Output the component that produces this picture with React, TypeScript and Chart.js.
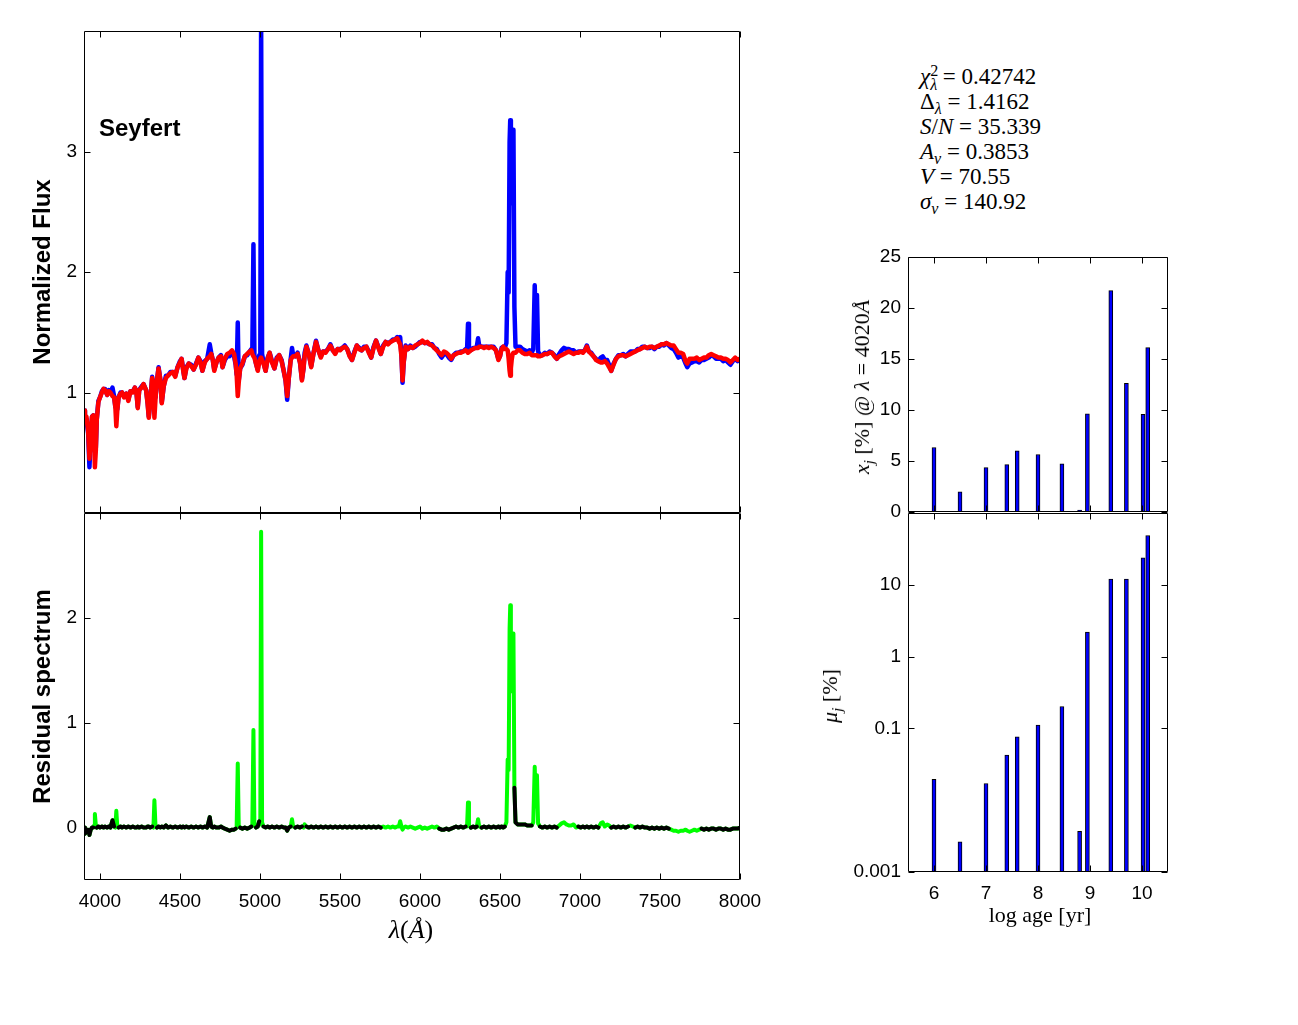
import React, { useEffect, useRef } from "react";
import { Chart, registerables } from "chart.js";

Chart.register(...registerables);

const SANS = "'Liberation Sans', Arial, Helvetica, sans-serif";
const SERIF = "'Liberation Serif', 'Times New Roman', serif";

// ---------------- spectrum data (wavelength in Å) ----------------
const wavelength = [
  3900, 3906, 3915, 3926, 3934, 3942, 3950, 3958, 3963, 3968,
  3974, 3980, 3990, 4000, 4012, 4022, 4031, 4045, 4055, 4065,
  4078, 4088, 4096, 4102, 4108, 4116, 4128, 4138, 4150, 4165,
  4177, 4190, 4205, 4218, 4228, 4236, 4245, 4260, 4272, 4288,
  4298, 4305, 4314, 4326, 4334, 4340, 4347, 4356, 4366, 4378,
  4386, 4398, 4412, 4425, 4440, 4455, 4470, 4485, 4500, 4510,
  4520, 4528, 4540, 4555, 4570, 4585, 4600, 4615, 4628, 4640,
  4655, 4670, 4686, 4695, 4705, 4714, 4728, 4742, 4756, 4766,
  4780, 4795, 4810, 4825, 4838, 4848, 4854, 4861, 4867, 4876,
  4890, 4905, 4920, 4935, 4946, 4952, 4959, 4965, 4975, 4986,
  4995, 5002, 5007, 5013, 5022, 5035, 5048, 5060, 5075, 5090,
  5105, 5120, 5135, 5148, 5160, 5170, 5180, 5192, 5200, 5207,
  5220, 5235, 5250, 5262, 5272, 5279, 5290, 5305, 5320, 5335,
  5350, 5365, 5380, 5395, 5410, 5425, 5440, 5455, 5470, 5485,
  5500, 5515, 5530, 5545, 5560, 5575, 5590, 5605, 5620, 5635,
  5650, 5665, 5680, 5695, 5710, 5725, 5740, 5755, 5770, 5785,
  5800, 5815, 5830, 5845, 5858, 5868, 5876, 5884, 5891, 5898,
  5910, 5925, 5940, 5955, 5970, 5985, 6000, 6015, 6030, 6045,
  6060, 6075, 6090, 6105, 6120, 6135, 6150, 6165, 6180, 6195,
  6210, 6225, 6240, 6255, 6270, 6285, 6294, 6300, 6306, 6318,
  6332, 6345, 6355, 6363, 6370, 6385, 6400, 6415, 6430, 6445,
  6460, 6475, 6490, 6500, 6510, 6520, 6530, 6540, 6548, 6554,
  6560, 6564, 6568, 6573, 6579, 6584, 6590, 6597, 6610, 6625,
  6640, 6655, 6670, 6685, 6698, 6708, 6717, 6724, 6731, 6738,
  6750, 6765, 6780, 6795, 6810, 6825, 6840, 6855, 6870, 6885,
  6900, 6915, 6930, 6945, 6960, 6975, 6990, 7003, 7018, 7030,
  7043, 7055, 7070, 7085, 7100, 7115, 7130, 7142, 7155, 7170,
  7182, 7195, 7210, 7225, 7240, 7255, 7270, 7285, 7300, 7315,
  7330, 7345, 7360, 7375, 7390, 7405, 7420, 7435, 7450, 7465,
  7480, 7495, 7510, 7525, 7540, 7555, 7570, 7585, 7600, 7615,
  7630, 7645, 7660, 7670, 7685, 7700, 7715, 7730, 7745, 7760,
  7775, 7790, 7805, 7820, 7835, 7850, 7865, 7880, 7895, 7910,
  7925, 7940, 7955, 7970, 7985, 8000,
];

// synthetic (model) spectrum, red
const modelFlux = [
  0.85, 0.80, 0.80, 0.68, 0.45, 0.64, 0.80, 0.81, 0.62, 0.38,
  0.52, 0.78, 0.92, 0.96, 1.00, 1.03, 1.02, 0.98, 1.01, 1.00,
  0.97, 0.96, 0.88, 0.72, 0.85, 0.96, 0.99, 1.00, 0.96, 0.99,
  0.93, 1.01, 1.00, 1.04, 1.00, 0.87, 1.02, 1.04, 1.07, 1.02,
  0.90, 0.79, 0.93, 1.12, 1.05, 0.79, 0.95, 1.10, 1.20, 1.10,
  0.91, 1.05, 1.12, 1.14, 1.16, 1.17, 1.13, 1.21, 1.25, 1.28,
  1.18, 1.12, 1.20, 1.24, 1.22, 1.19, 1.23, 1.29, 1.25, 1.18,
  1.25, 1.28, 1.30, 1.32, 1.27, 1.18, 1.25, 1.29, 1.30, 1.21,
  1.28, 1.32, 1.33, 1.35, 1.32, 1.24, 1.15, 0.97, 1.08, 1.20,
  1.24, 1.30, 1.32, 1.34, 1.35, 1.32, 1.30, 1.29, 1.24, 1.18,
  1.25, 1.28, 1.29, 1.27, 1.24, 1.18, 1.28, 1.33, 1.25, 1.20,
  1.28, 1.31, 1.26, 1.18, 1.10, 0.97, 1.12, 1.27, 1.29, 1.30,
  1.30, 1.32, 1.25, 1.10, 1.20, 1.30, 1.38, 1.32, 1.21, 1.33,
  1.42, 1.35, 1.29, 1.34, 1.33, 1.36, 1.39, 1.35, 1.32, 1.36,
  1.35, 1.37, 1.38, 1.36, 1.30, 1.27, 1.33, 1.39, 1.36, 1.35,
  1.37, 1.38, 1.33, 1.29, 1.37, 1.43, 1.37, 1.32, 1.38, 1.42,
  1.40, 1.42, 1.43, 1.44, 1.45, 1.42, 1.40, 1.30, 1.10, 1.25,
  1.38, 1.36, 1.38, 1.37, 1.39, 1.40, 1.41, 1.43, 1.41, 1.42,
  1.40, 1.39, 1.37, 1.35, 1.33, 1.31, 1.34, 1.33, 1.31, 1.28,
  1.31, 1.32, 1.33, 1.33, 1.34, 1.35, 1.34, 1.33, 1.33, 1.35,
  1.36, 1.37, 1.37, 1.37, 1.38, 1.38, 1.37, 1.38, 1.37, 1.38,
  1.37, 1.35, 1.27, 1.30, 1.36, 1.38, 1.36, 1.36, 1.35, 1.28,
  1.18, 1.14, 1.20, 1.27, 1.32, 1.33, 1.33, 1.33, 1.35, 1.35,
  1.33, 1.32, 1.32, 1.33, 1.31, 1.31, 1.31, 1.31, 1.31, 1.30,
  1.30, 1.31, 1.32, 1.32, 1.33, 1.33, 1.30, 1.28, 1.30, 1.31,
  1.32, 1.33, 1.34, 1.33, 1.32, 1.33, 1.33, 1.34, 1.33, 1.35,
  1.38, 1.34, 1.32, 1.30, 1.27, 1.26, 1.25, 1.25, 1.26, 1.24,
  1.21, 1.18, 1.23, 1.28, 1.30, 1.31, 1.31, 1.30, 1.31, 1.32,
  1.33, 1.34, 1.35, 1.36, 1.37, 1.38, 1.37, 1.38, 1.38, 1.37,
  1.38, 1.39, 1.40, 1.40, 1.41, 1.40, 1.39, 1.39, 1.36, 1.33,
  1.33, 1.32, 1.26, 1.24, 1.28, 1.28, 1.28, 1.29, 1.27, 1.28,
  1.29, 1.29, 1.31, 1.32, 1.31, 1.30, 1.29, 1.29, 1.28, 1.28,
  1.27, 1.25, 1.27, 1.29, 1.27, 1.28,
];

// residual (observed - model); observed (blue) = model + residual
const residual = [
  0.00, -0.06, -0.02, -0.02, -0.07, -0.02, 0.00, 0.00, 0.02, 0.13,
  0.02, 0.00, 0.01, 0.00, 0.01, 0.00, 0.01, 0.00, 0.01, 0.00,
  0.07, 0.01, 0.00, 0.16, 0.01, 0.00, 0.01, 0.00, 0.01, 0.00,
  0.01, 0.00, 0.01, 0.00, 0.00, 0.01, 0.00, 0.01, 0.00, 0.00,
  0.01, 0.01, 0.00, 0.01, 0.00, 0.26, 0.01, 0.00, 0.01, 0.00,
  0.01, 0.00, 0.02, 0.00, 0.01, 0.00, 0.01, 0.00, 0.01, 0.00,
  0.01, 0.00, 0.01, 0.00, 0.01, 0.00, 0.01, 0.00, 0.01, 0.00,
  0.01, 0.00, 0.10, 0.01, 0.00, 0.01, 0.00, 0.00, 0.01, 0.00,
  -0.01, -0.02, -0.03, -0.02, -0.02, -0.01, 0.00, 0.61, 0.02, 0.00,
  -0.01, 0.00, -0.01, 0.00, 0.01, 0.02, 0.93, 0.02, 0.00, 0.01,
  0.06, 0.03, 2.82, 0.05, 0.01, 0.00, 0.01, 0.00, 0.01, 0.00,
  0.01, 0.00, 0.01, 0.00, 0.00, -0.03, 0.00, 0.01, 0.08, 0.01,
  0.00, 0.01, 0.00, 0.01, 0.00, 0.03, 0.01, 0.00, 0.01, 0.00,
  0.01, 0.00, 0.01, 0.00, 0.01, 0.00, 0.01, 0.00, 0.01, 0.00,
  0.01, 0.00, 0.01, 0.00, 0.01, 0.00, 0.01, 0.00, 0.01, 0.00,
  0.01, 0.00, 0.01, 0.00, 0.01, 0.00, 0.01, 0.00, 0.01, 0.00,
  0.01, 0.00, 0.01, 0.00, 0.01, 0.01, 0.06, 0.01, -0.02, 0.00,
  0.01, 0.00, 0.01, 0.00, -0.01, 0.00, 0.01, -0.01, 0.00, -0.01,
  0.00, 0.01, 0.00, 0.01, -0.01, -0.02, -0.02, -0.01, -0.02, -0.01,
  0.00, 0.01, 0.00, 0.01, 0.00, 0.01, 0.01, 0.24, 0.02, 0.00,
  0.01, 0.00, 0.01, 0.08, 0.01, 0.00, 0.01, 0.00, 0.01, 0.00,
  0.01, 0.00, 0.01, 0.00, 0.01, 0.00, 0.01, 0.05, 0.65, 0.55,
  1.90, 2.12, 1.60, 1.30, 1.75, 1.85, 0.38, 0.05, 0.03, 0.03,
  0.03, 0.03, 0.02, 0.02, 0.02, 0.05, 0.58, 0.20, 0.50, 0.04,
  0.01, 0.00, 0.01, 0.00, 0.01, 0.00, 0.01, 0.00, 0.02, 0.04,
  0.05, 0.03, 0.02, 0.02, 0.03, 0.00, 0.01, 0.00, 0.01, 0.00,
  0.01, 0.00, 0.01, 0.00, 0.01, 0.00, 0.04, 0.05, 0.01, 0.03,
  0.02, 0.00, 0.01, 0.00, 0.01, 0.00, 0.01, 0.00, 0.01, 0.02,
  0.01, 0.00, 0.01, 0.00, 0.01, 0.00, 0.00, -0.01, 0.00, -0.01,
  0.00, -0.01, 0.00, -0.01, 0.00, -0.01, -0.02, -0.03, -0.03, -0.04,
  -0.03, -0.03, -0.02, -0.03, -0.04, -0.03, -0.02, -0.03, -0.02, -0.01,
  -0.02, -0.01, -0.02, -0.01, -0.01, -0.02, -0.01, -0.01, -0.02, -0.01,
  -0.02, -0.02, -0.01, -0.01, -0.01, 0.00,
];

// wavelength windows masked in the fit (residual drawn green there)
const maskedRanges: [number, number][] = [
  [3962, 3975], [4096, 4108], [4334, 4347], [4854, 4867], [4952, 4965],
  [5002, 5013], [5195, 5207], [5272, 5286], [5765, 6110], [6294, 6306],
  [6358, 6370], [6536, 6585], [6705, 6740], [6865, 6975], [7128, 7185],
  [7305, 7340], [7565, 7750],
];

const wavelengthTicks = [4000, 4500, 5000, 5500, 6000, 6500, 7000, 7500, 8000];
const fluxTicks = [1, 2, 3];
const residualTicks = [0, 1, 2];

// ---------------- population synthesis bars ----------------
const logAge = [6.0, 6.5, 7.0, 7.4, 7.6, 8.0, 8.46, 8.8, 8.95, 9.4, 9.7, 10.02, 10.11];
const lightFraction = [6.29, 1.94, 4.32, 4.61, 5.97, 5.61, 4.68, 0.15, 9.61, 21.7, 12.6, 9.55, 16.1];
const massFraction = [0.0195, 0.00264, 0.0171, 0.0425, 0.0766, 0.111, 0.202, 0.00368, 2.19, 12.0, 12.0, 23.8, 48.6];
const ageTicks = [6, 7, 8, 9, 10];
const lightTicks = [0, 5, 10, 15, 20, 25];
const massTicks = [0.001, 0.1, 1, 10];

// ---------------- helpers ----------------
const isMasked = (w: number) => maskedRanges.some(([a, b]) => w >= a && w <= b);

const tickFont = { family: SANS, size: 19 };
const fixedTicks = (vals: number[]) => (scale: any) => {
  scale.ticks = vals.map((v) => ({ value: v }));
};

const framePlugin = {
  id: "frameTicks",
  afterDraw(chart: any, _args: any, opts: any) {
    const { ctx, chartArea: a, scales } = chart;
    const L = Math.round(a.left) + 0.5;
    const R = Math.round(a.right) - 0.5;
    const T = Math.round(a.top) + 0.5;
    const B = Math.round(a.bottom) - 0.5;
    const len = 6;
    ctx.save();
    ctx.strokeStyle = "#000";
    ctx.lineWidth = 1;
    ctx.beginPath();
    ctx.rect(L, T, R - L, B - T);
    (opts.xTicks || []).forEach((v: number) => {
      const p = Math.round(scales.x.getPixelForValue(v)) + 0.5;
      ctx.moveTo(p, B);
      ctx.lineTo(p, B - len);
      ctx.moveTo(p, T);
      ctx.lineTo(p, T + len);
    });
    (opts.yTicks || []).forEach((v: number) => {
      const p = Math.round(scales.y.getPixelForValue(v)) + 0.5;
      ctx.moveTo(L, p);
      ctx.lineTo(L + len, p);
      ctx.moveTo(R, p);
      ctx.lineTo(R - len, p);
    });
    ctx.stroke();
    ctx.restore();
  },
};

function yAxis(type: string, min: number, max: number, vals: number[], width: number, title?: string) {
  return {
    type,
    min,
    max,
    afterBuildTicks: fixedTicks(vals),
    afterFit: (s: any) => {
      s.width = width;
    },
    grid: { display: false, drawTicks: false },
    border: { display: false },
    ticks: { font: tickFont, color: "#000", padding: 7, autoSkip: false, callback: (v: any) => String(v) },
    title: title
      ? {
          display: true,
          text: title,
          color: "#000",
          font: { family: SANS, size: 24, weight: "bold" },
          padding: { top: 29, bottom: 0 },
        }
      : { display: false },
  };
}

function xAxis(min: number, max: number, vals: number[], height: number, show: boolean) {
  return {
    type: "linear",
    min,
    max,
    offset: false,
    display: show,
    afterBuildTicks: fixedTicks(vals),
    afterFit: (s: any) => {
      s.height = height;
    },
    grid: { display: false, drawTicks: false },
    border: { display: false },
    ticks: { font: tickFont, color: "#000", padding: 10, autoSkip: false, maxRotation: 0, callback: (v: any) => String(v) },
  };
}

const lineStyle = {
  pointRadius: 0,
  borderWidth: 4.5,
  borderJoinStyle: "round",
  borderCapStyle: "round",
  tension: 0,
  clip: 0,
};

const common = {
  responsive: false,
  animation: false,
  events: [],
};

function spectrumConfig(): any {
  return {
    type: "line",
    data: {
      datasets: [
        {
          label: "model",
          data: wavelength.map((w, i) => ({ x: w, y: modelFlux[i] })),
          borderColor: "#ff0000",
          ...lineStyle,
        },
        {
          label: "observed",
          data: wavelength.map((w, i) => ({ x: w, y: modelFlux[i] + residual[i] })),
          borderColor: "#0000ff",
          ...lineStyle,
        },
      ],
    },
    options: {
      ...common,
      layout: { padding: { left: 0, top: 31, right: 60, bottom: 47 } },
      plugins: {
        legend: { display: false },
        tooltip: { enabled: false },
        frameTicks: { xTicks: wavelengthTicks, yTicks: fluxTicks },
      },
      scales: {
        x: xAxis(3900, 8000, wavelengthTicks, 0, false),
        y: yAxis("linear", 0, 4, fluxTicks, 84, "Normalized Flux"),
      },
    },
    plugins: [framePlugin],
  };
}

function residualConfig(): any {
  return {
    type: "line",
    data: {
      datasets: [
        {
          label: "fitted",
          data: wavelength.map((w, i) => ({ x: w, y: isMasked(w) ? null : residual[i] })),
          borderColor: "#000000",
          ...lineStyle,
          borderWidth: 4,
        },
        {
          label: "masked",
          data: wavelength.map((w, i) => ({ x: w, y: residual[i] })),
          borderColor: "#00ff00",
          ...lineStyle,
          borderWidth: 4,
        },
      ],
    },
    options: {
      ...common,
      layout: { padding: { left: 0, top: 33, right: 60, bottom: 0 } },
      plugins: {
        legend: { display: false },
        tooltip: { enabled: false },
        frameTicks: { xTicks: wavelengthTicks, yTicks: residualTicks },
      },
      scales: {
        x: xAxis(3900, 8000, wavelengthTicks, 60, true),
        y: yAxis("linear", -0.5, 3, residualTicks, 84, "Residual spectrum"),
      },
    },
    plugins: [framePlugin],
  };
}

const barStyle = {
  backgroundColor: "#0000ff",
  borderColor: "#000000",
  borderWidth: 1,
  barThickness: 4,
};

function lightConfig(): any {
  return {
    type: "bar",
    data: {
      datasets: [{ label: "x_j", data: logAge.map((a, i) => ({ x: a, y: lightFraction[i] })), ...barStyle }],
    },
    options: {
      ...common,
      layout: { padding: { left: 0, top: 27, right: 72, bottom: 17 } },
      plugins: {
        legend: { display: false },
        tooltip: { enabled: false },
        frameTicks: { xTicks: ageTicks, yTicks: lightTicks },
      },
      scales: {
        x: xAxis(5.5, 10.5, ageTicks, 0, false),
        y: yAxis("linear", 0, 25, lightTicks, 88),
      },
    },
    plugins: [framePlugin],
  };
}

function massConfig(): any {
  return {
    type: "bar",
    data: {
      datasets: [{ label: "mu_j", data: logAge.map((a, i) => ({ x: a, y: massFraction[i] })), ...barStyle }],
    },
    options: {
      ...common,
      layout: { padding: { left: 0, top: 33, right: 72, bottom: 0 } },
      plugins: {
        legend: { display: false },
        tooltip: { enabled: false },
        frameTicks: { xTicks: ageTicks, yTicks: massTicks },
      },
      scales: {
        x: xAxis(5.5, 10.5, ageTicks, 88, true),
        y: yAxis("logarithmic", 0.001, 100, massTicks, 88),
      },
    },
    plugins: [framePlugin],
  };
}

function ChartCanvas(props: { left: number; top: number; width: number; height: number; make: () => any }) {
  const ref = useRef<HTMLCanvasElement | null>(null);
  useEffect(() => {
    const chart = new Chart(ref.current as HTMLCanvasElement, props.make());
    return () => chart.destroy();
  }, []);
  const { left, top, width, height } = props;
  return (
    <canvas
      ref={ref}
      width={width}
      height={height}
      style={{ position: "absolute", left, top, width, height }}
    />
  );
}

function Label(props: { x: number; y: number; rotate?: number; style?: any; children: any }) {
  const { x, y, rotate = 0, style, children } = props;
  return (
    <div
      style={{
        position: "absolute",
        left: x,
        top: y,
        transform: `translate(-50%, -50%) rotate(${rotate}deg)`,
        whiteSpace: "nowrap",
        lineHeight: 1,
        color: "#000",
        ...style,
      }}
    >
      {children}
    </div>
  );
}

const statStyle: any = {
  position: "absolute",
  left: 920,
  transform: "translateY(-50%)",
  fontFamily: SERIF,
  fontSize: 23,
  lineHeight: 1,
  whiteSpace: "nowrap",
  color: "#000",
};

const Sub = ({ children, italic = true }: any) => (
  <span style={{ position: "relative", top: "0.3em", fontSize: "0.7em", fontStyle: italic ? "italic" : "normal" }}>
    {children}
  </span>
);

export default function App() {
  return (
    <div
      style={{
        position: "fixed",
        left: 0,
        top: 0,
        width: 1298,
        height: 1025,
        background: "#fff",
        overflow: "hidden",
      }}
    >
      <ChartCanvas left={0} top={0} width={800} height={560} make={spectrumConfig} />
      <ChartCanvas left={0} top={480} width={800} height={460} make={residualConfig} />
      <ChartCanvas left={820} top={230} width={420} height={300} make={lightConfig} />
      <ChartCanvas left={820} top={480} width={420} height={480} make={massConfig} />

      <div
        style={{
          position: "absolute",
          left: 99,
          top: 128,
          transform: "translateY(-50%)",
          fontFamily: SANS,
          fontWeight: "bold",
          fontSize: 24,
          lineHeight: 1,
          color: "#000",
        }}
      >
        Seyfert
      </div>

      <div style={{ ...statStyle, top: 76 }}>
        <i>χ</i>
        <span style={{ position: "relative", top: "-0.5em", fontSize: "0.7em" }}>2</span>
        <span style={{ position: "relative", top: "0.35em", fontSize: "0.7em", fontStyle: "italic", marginLeft: "-0.5em" }}>λ</span>
        {" = 0.42742"}
      </div>
      <div style={{ ...statStyle, top: 101 }}>
        Δ<Sub>λ</Sub>
        {" = 1.4162"}
      </div>
      <div style={{ ...statStyle, top: 126 }}>
        <i>S</i>/<i>N</i>
        {" = 35.339"}
      </div>
      <div style={{ ...statStyle, top: 151 }}>
        <i>A</i>
        <Sub>v</Sub>
        {" = 0.3853"}
      </div>
      <div style={{ ...statStyle, top: 176 }}>
        <i>V</i>
        {" = 70.55"}
      </div>
      <div style={{ ...statStyle, top: 201 }}>
        <i>σ</i>
        <Sub>v</Sub>
        {" = 140.92"}
      </div>

      <Label x={411} y={930} style={{ fontFamily: SERIF, fontSize: 26 }}>
        <i>λ</i>(<i>Å</i>)
      </Label>
      <Label x={1040} y={915} style={{ fontFamily: SERIF, fontSize: 22 }}>
        log age [yr]
      </Label>
      <Label x={862} y={387} rotate={-90} style={{ fontFamily: SERIF, fontSize: 22 }}>
        <i>x</i>
        <Sub>j</Sub> [%] @ <i>λ</i> = 4020<i>Å</i>
      </Label>
      <Label x={830} y={696} rotate={-90} style={{ fontFamily: SERIF, fontSize: 22 }}>
        <i>μ</i>
        <Sub>j</Sub> [%]
      </Label>
    </div>
  );
}
